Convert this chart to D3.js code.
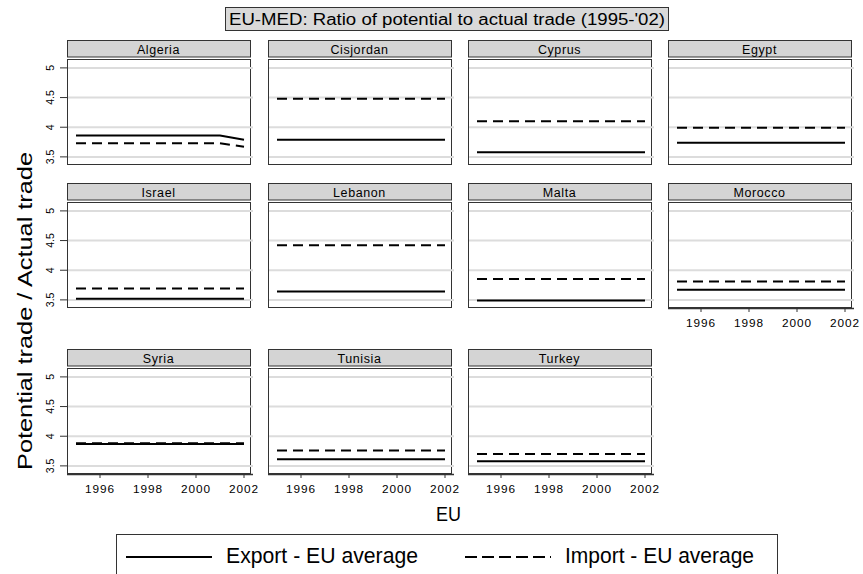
<!DOCTYPE html>
<html>
<head>
<style>
body { margin: 0; background: #fff; }
svg text { font-family: "Liberation Sans", Arial, sans-serif; fill: #000; }
</style>
</head>
<body>
<div id="container"></div>
<script src="https://d3js.org/d3.v7.min.js"></script>
<script>
const width = 863, height = 574;

const years = [1995, 1996, 1997, 1998, 1999, 2000, 2001, 2002];
const countries = ["Algeria", "Cisjordan", "Cyprus", "Egypt", "Israel", "Lebanon",
                   "Malta", "Morocco", "Syria", "Tunisia", "Turkey"];
// Export - EU average, one row per country, 1995..2002
const exportVals = [
  [3.86, 3.86, 3.86, 3.86, 3.86, 3.86, 3.86, 3.79],
  [3.79, 3.79, 3.79, 3.79, 3.79, 3.79, 3.79, 3.79],
  [3.58, 3.58, 3.58, 3.58, 3.58, 3.58, 3.58, 3.58],
  [3.74, 3.74, 3.74, 3.74, 3.74, 3.74, 3.74, 3.74],
  [3.52, 3.52, 3.52, 3.52, 3.52, 3.52, 3.52, 3.52],
  [3.64, 3.64, 3.64, 3.64, 3.64, 3.64, 3.64, 3.64],
  [3.49, 3.49, 3.49, 3.49, 3.49, 3.49, 3.49, 3.49],
  [3.67, 3.67, 3.67, 3.67, 3.67, 3.67, 3.67, 3.67],
  [3.87, 3.87, 3.87, 3.87, 3.87, 3.87, 3.87, 3.87],
  [3.61, 3.61, 3.61, 3.61, 3.61, 3.61, 3.61, 3.61],
  [3.58, 3.58, 3.58, 3.58, 3.58, 3.58, 3.58, 3.58]
];
// Import - EU average
const importVals = [
  [3.73, 3.73, 3.73, 3.73, 3.73, 3.73, 3.73, 3.67],
  [4.48, 4.48, 4.48, 4.48, 4.48, 4.48, 4.48, 4.48],
  [4.10, 4.10, 4.10, 4.10, 4.10, 4.10, 4.10, 4.10],
  [3.99, 3.99, 3.99, 3.99, 3.99, 3.99, 3.99, 3.99],
  [3.69, 3.69, 3.69, 3.69, 3.69, 3.69, 3.69, 3.69],
  [4.42, 4.42, 4.42, 4.42, 4.42, 4.42, 4.42, 4.42],
  [3.85, 3.85, 3.85, 3.85, 3.85, 3.85, 3.85, 3.85],
  [3.81, 3.81, 3.81, 3.81, 3.81, 3.81, 3.81, 3.81],
  [3.88, 3.88, 3.88, 3.88, 3.88, 3.88, 3.88, 3.88],
  [3.76, 3.76, 3.76, 3.76, 3.76, 3.76, 3.76, 3.76],
  [3.70, 3.70, 3.70, 3.70, 3.70, 3.70, 3.70, 3.70]
];
const yTicks = [3.5, 4, 4.5, 5];
const xTicks = [1996, 1998, 2000, 2002];
const yTickLabels = ["3.5", "4", "4.5", "5"];

// layout
const colLeft = [67, 268, 468, 668];
const rowTop = [59, 202, 368];
const pw = 183, ph = 105;

const svg = d3.select('#container').append('svg')
    .attr('width', width).attr('height', height);

const x = d3.scaleLinear().domain([1994.625, 2002.25]).range([0, pw]);
const y = d3.scaleLinear().domain([3.38, 5.15]).range([ph, 0]);

const line = d3.line().x((d, i) => x(years[i])).y(d => y(d));

// title
svg.append('rect').attr('x', 225.5).attr('y', 7.5).attr('width', 443).attr('height', 23)
    .attr('fill', '#d9d9d9').attr('stroke', '#333').attr('stroke-width', 1);
svg.append('text').attr('x', 229).attr('y', 25)
    .attr('textLength', 436).attr('lengthAdjust', 'spacingAndGlyphs')
    .style('font-size', '16px').text("EU-MED: Ratio of  potential to actual trade (1995-'02)");

countries.forEach((name, k) => {
  const col = k % 4, row = Math.floor(k / 4);
  const g = svg.append('g').attr('transform', `translate(${colLeft[col]},${rowTop[row]})`);

  // strip
  g.append('rect').attr('x', 0.5).attr('y', -18.5).attr('width', pw).attr('height', 16.5)
      .attr('fill', '#d4d4d4').attr('stroke', '#333').attr('stroke-width', 1);
  g.append('text').attr('x', pw / 2).attr('y', -4.8).attr('text-anchor', 'middle')
      .style('font-size', '12.5px').style('letter-spacing', '0.6px').text(name);

  // plot region
  g.append('rect').attr('x', 0.5).attr('y', 0.5).attr('width', pw).attr('height', ph)
      .attr('fill', '#fff').attr('stroke', '#333').attr('stroke-width', 1);

  // grid
  g.selectAll('.grid').data(yTicks).enter().append('line')
      .attr('x1', 1).attr('x2', pw + 3)
      .attr('y1', d => y(d)).attr('y2', d => y(d))
      .attr('stroke', '#dcdcdc').attr('stroke-width', 2);

  // series
  g.append('path').datum(importVals[k]).attr('d', line)
      .attr('fill', 'none').attr('stroke', '#000').attr('stroke-width', 2)
      .attr('stroke-dasharray', '10,6');
  g.append('path').datum(exportVals[k]).attr('d', line)
      .attr('fill', 'none').attr('stroke', '#000').attr('stroke-width', 2);

  // y axis on first column
  if (col === 0) {
    const ya = g.append('g');
    ya.selectAll('line').data(yTicks).enter().append('line')
        .attr('x1', -7).attr('x2', 0)
        .attr('y1', d => y(d)).attr('y2', d => y(d))
        .attr('stroke', '#333').attr('stroke-width', 1);
    ya.selectAll('text').data(yTicks).enter().append('text')
        .attr('transform', d => `translate(-13.5,${y(d)}) rotate(-90)`)
        .attr('text-anchor', 'middle')
        .style('font-size', '10.5px')
        .text((d, i) => yTickLabels[i]);
  }

  // x axis on bottom panels
  if (row === 2 || k === 7) {
    const xa = g.append('g');
    xa.append('line').attr('x1', 0).attr('x2', pw + 3).attr('y1', ph + 1.5).attr('y2', ph + 1.5)
        .attr('stroke', '#333').attr('stroke-width', 1.5);
    xa.selectAll('line.t').data(xTicks).enter().append('line')
        .attr('x1', d => x(d)).attr('x2', d => x(d))
        .attr('y1', ph + 1).attr('y2', ph + 5)
        .attr('stroke', '#333').attr('stroke-width', 1);
    xa.selectAll('text').data(xTicks).enter().append('text')
        .attr('x', d => x(d)).attr('y', ph + 19.5)
        .attr('text-anchor', 'middle')
        .style('font-size', '11.8px').style('letter-spacing', '1px')
        .text(d => d);
  }
});

// axis titles
svg.append('text').attr('transform', 'translate(32,311) rotate(-90)')
    .attr('text-anchor', 'middle').style('font-size', '20px')
    .attr('textLength', 318).attr('lengthAdjust', 'spacingAndGlyphs')
    .text('Potential trade / Actual trade');
svg.append('text').attr('x', 436).attr('y', 521)
    .attr('textLength', 25).attr('lengthAdjust', 'spacingAndGlyphs')
    .style('font-size', '21px').text('EU');

// legend
const legendItems = ["Export - EU average", "Import - EU average"];
const legendLen = [192, 189];
const legendDash = [null, '12,5'];
const legendX = [126, 465];
svg.append('rect').attr('x', 116.5).attr('y', 534.5).attr('width', 661).attr('height', 50)
    .attr('fill', '#fff').attr('stroke', '#333').attr('stroke-width', 1);
legendItems.forEach((t, i) => {
  svg.append('line').attr('x1', legendX[i]).attr('x2', legendX[i] + 86)
      .attr('y1', 557).attr('y2', 557)
      .attr('stroke', '#000').attr('stroke-width', 2)
      .attr('stroke-dasharray', legendDash[i]);
  svg.append('text').attr('x', legendX[i] + 100).attr('y', 563)
      .attr('textLength', legendLen[i]).attr('lengthAdjust', 'spacingAndGlyphs')
      .style('font-size', '22px').text(t);
});
</script>
</body>
</html>
